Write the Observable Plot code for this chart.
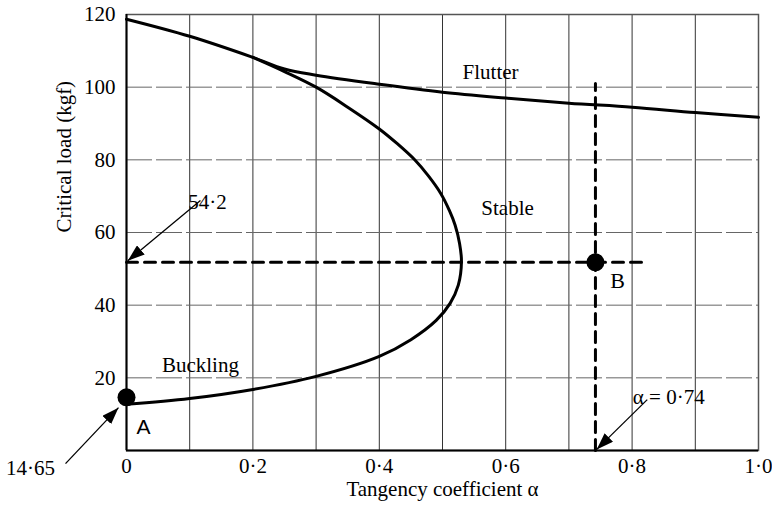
<!DOCTYPE html>
<html>
<head>
<meta charset="utf-8">
<script src="https://cdn.jsdelivr.net/npm/d3@7"></script>
<script src="https://cdn.jsdelivr.net/npm/@observablehq/plot@0.6"></script>
<style>
  html, body { margin: 0; padding: 0; background: white; }
  #chart svg { display: block; }
</style>
</head>
<body>
<div id="chart"></div>
<script>
// ---- data ----
const flutterAlpha = [0, 0.1, 0.2, 0.25, 0.3, 0.4, 0.5, 0.6, 0.7, 0.8, 0.9, 1.0];
const flutterLoad  = [118.7, 114, 108.2, 105, 103.3, 100.8, 98.6, 97, 95.6, 94.5, 93, 91.7];

const bucklingAlpha = [0, 0.1, 0.2, 0.3, 0.4, 0.45, 0.49, 0.512, 0.525, 0.530, 0.527, 0.52, 0.511, 0.497, 0.478, 0.456, 0.428, 0.4, 0.35, 0.3, 0.25, 0.2];
const bucklingLoad  = [12.7, 14.3, 16.8, 20.4, 25.9, 30.5, 35.8, 40.5, 45.5, 52, 57, 62, 66, 70.8, 75.5, 80, 84.5, 88.5, 94.5, 100, 104.3, 108.2];

const pointNames = ["A", "B"];
const pointAlpha = [0, 0.742];
const pointLoad  = [14.65, 51.8];

const hDashAlpha = [0, 0.816];
const vDashLoad  = [0, 101];

const xTicks = [0, 0.2, 0.4, 0.6, 0.8, 1.0];
const yTicks = [20, 40, 60, 80, 100, 120];
const xGrid = [0.1, 0.2, 0.3, 0.4, 0.5, 0.6, 0.7, 0.8, 0.9];
const yGrid = [20, 40, 60, 80, 100];

const regionLabels = ["Flutter", "Stable", "Buckling"];
const regionAlpha  = [0.576, 0.603, 0.117];
const regionLoad   = [104.0, 66.6, 23.4];

const noteTexts  = ["54·2", "14·65", "α = 0·74"];
const noteAlpha  = [0.128, -0.152, 0.858];
const noteLoad   = [68.3, -4.95, 14.6];
const noteAnchor = ["start", "middle", "start"];
const arrowFrom  = [[0.117, 68.8], [-0.0965, -3.6], [0.824, 14.0]];
const arrowTo    = [[0.002, 52.2], [-0.0127, 11.8], [0.744, 0.3]];

const letterAlpha = [0.027, 0.777];
const letterLoad  = [6.3, 46.8];

// ---- build tables ----
const flutter = flutterAlpha.map((a, i) => ({a, p: flutterLoad[i]}));
const buckling = bucklingAlpha.map((a, i) => ({a, p: bucklingLoad[i]}));
const points = pointNames.map((n, i) => ({n, a: pointAlpha[i], p: pointLoad[i]}));
const hDash = hDashAlpha.map(a => ({a, p: pointLoad[1]}));
const vDash = vDashLoad.map(p => ({a: pointAlpha[1], p}));
const regions = regionLabels.map((t, i) => ({t, a: regionAlpha[i], p: regionLoad[i]}));
const notes = noteTexts.map((t, i) => ({t, a: noteAlpha[i], p: noteLoad[i], anchor: noteAnchor[i]}));
const arrows = arrowFrom.map((f, i) => ({x1: f[0], y1: f[1], x2: arrowTo[i][0], y2: arrowTo[i][1]}));
const letters = pointNames.map((n, i) => ({n, a: letterAlpha[i], p: letterLoad[i]}));

const fmt = d => d === 0 ? "0" : d3.format(".1f")(d).replace(".", "·");
const serif = "Liberation Serif, Times New Roman, serif";

const chart = Plot.plot({
  width: 772,
  height: 507,
  marginLeft: 126,
  marginRight: 14,
  marginTop: 14,
  marginBottom: 57,
  style: {fontFamily: serif, fontSize: "21px", background: "white", color: "black"},
  x: {domain: [0, 1]},
  y: {domain: [0, 120]},
  marks: [
    Plot.ruleX(xGrid, {stroke: "#333", strokeWidth: 1}),
    Plot.ruleY(yGrid, {stroke: "#666", strokeWidth: 1, strokeDasharray: "26,4"}),
    Plot.frame({stroke: "#555", strokeWidth: 1.5}),
    Plot.ruleX([0], {stroke: "black", strokeWidth: 2}),
    Plot.ruleY([0], {stroke: "black", strokeWidth: 2}),
    Plot.axisX({ticks: xTicks, tickFormat: fmt, tickSize: 0, tickPadding: 8, label: null, fontSize: 21}),
    Plot.axisY({ticks: yTicks, tickSize: 0, tickPadding: 11, label: null, fontSize: 21}),
    Plot.line(hDash, {x: "a", y: "p", stroke: "black", strokeWidth: 3, strokeDasharray: "11,7"}),
    Plot.line(vDash, {x: "a", y: "p", stroke: "black", strokeWidth: 3, strokeDasharray: "11,7"}),
    Plot.line(flutter, {x: "a", y: "p", curve: "catmull-rom", stroke: "black", strokeWidth: 3}),
    Plot.line(buckling, {x: "a", y: "p", curve: "catmull-rom", stroke: "black", strokeWidth: 3}),
    Plot.dot(points, {x: "a", y: "p", r: 9, fill: "black"}),
    Plot.link(arrows, {x1: "x1", y1: "y1", x2: "x2", y2: "y2", stroke: "black", strokeWidth: 1.3, markerEnd: "arrow"}),
    Plot.text(regions, {x: "a", y: "p", text: "t", fontSize: 21, fill: "black"}),
    Plot.text(notes, {x: "a", y: "p", text: "t", textAnchor: d => d.anchor, fontSize: 21, fill: "black"}),
    Plot.text(letters.slice(0, 1), {x: "a", y: "p", text: "n", fontSize: 21, fontFamily: "Liberation Sans, Arial, sans-serif", fill: "black"}),
    Plot.text(letters.slice(1), {x: "a", y: "p", text: "n", fontSize: 22, fill: "black"}),
    Plot.text(["Critical load (kgf)"], {frameAnchor: "left", rotate: -90, dx: -62, fontSize: 21, fill: "black"}),
    Plot.text(["Tangency coefficient α"], {frameAnchor: "bottom", dy: 45, fontSize: 21, fill: "black"})
  ]
});

// filled arrowheads
d3.select(chart).selectAll("marker").each(function() {
  const m = d3.select(this);
  m.attr("viewBox", "-17 -6 18 12")
   .attr("markerUnits", "userSpaceOnUse")
   .attr("markerWidth", 18)
   .attr("markerHeight", 12)
   .attr("refX", 0).attr("refY", 0)
   .attr("fill", "black").attr("stroke", "none");
  m.selectAll("path").attr("d", "M-17,-6L0,0L-17,6Z").attr("fill", "black").attr("stroke", "none");
});

document.getElementById("chart").appendChild(chart);
</script>
</body>
</html>
